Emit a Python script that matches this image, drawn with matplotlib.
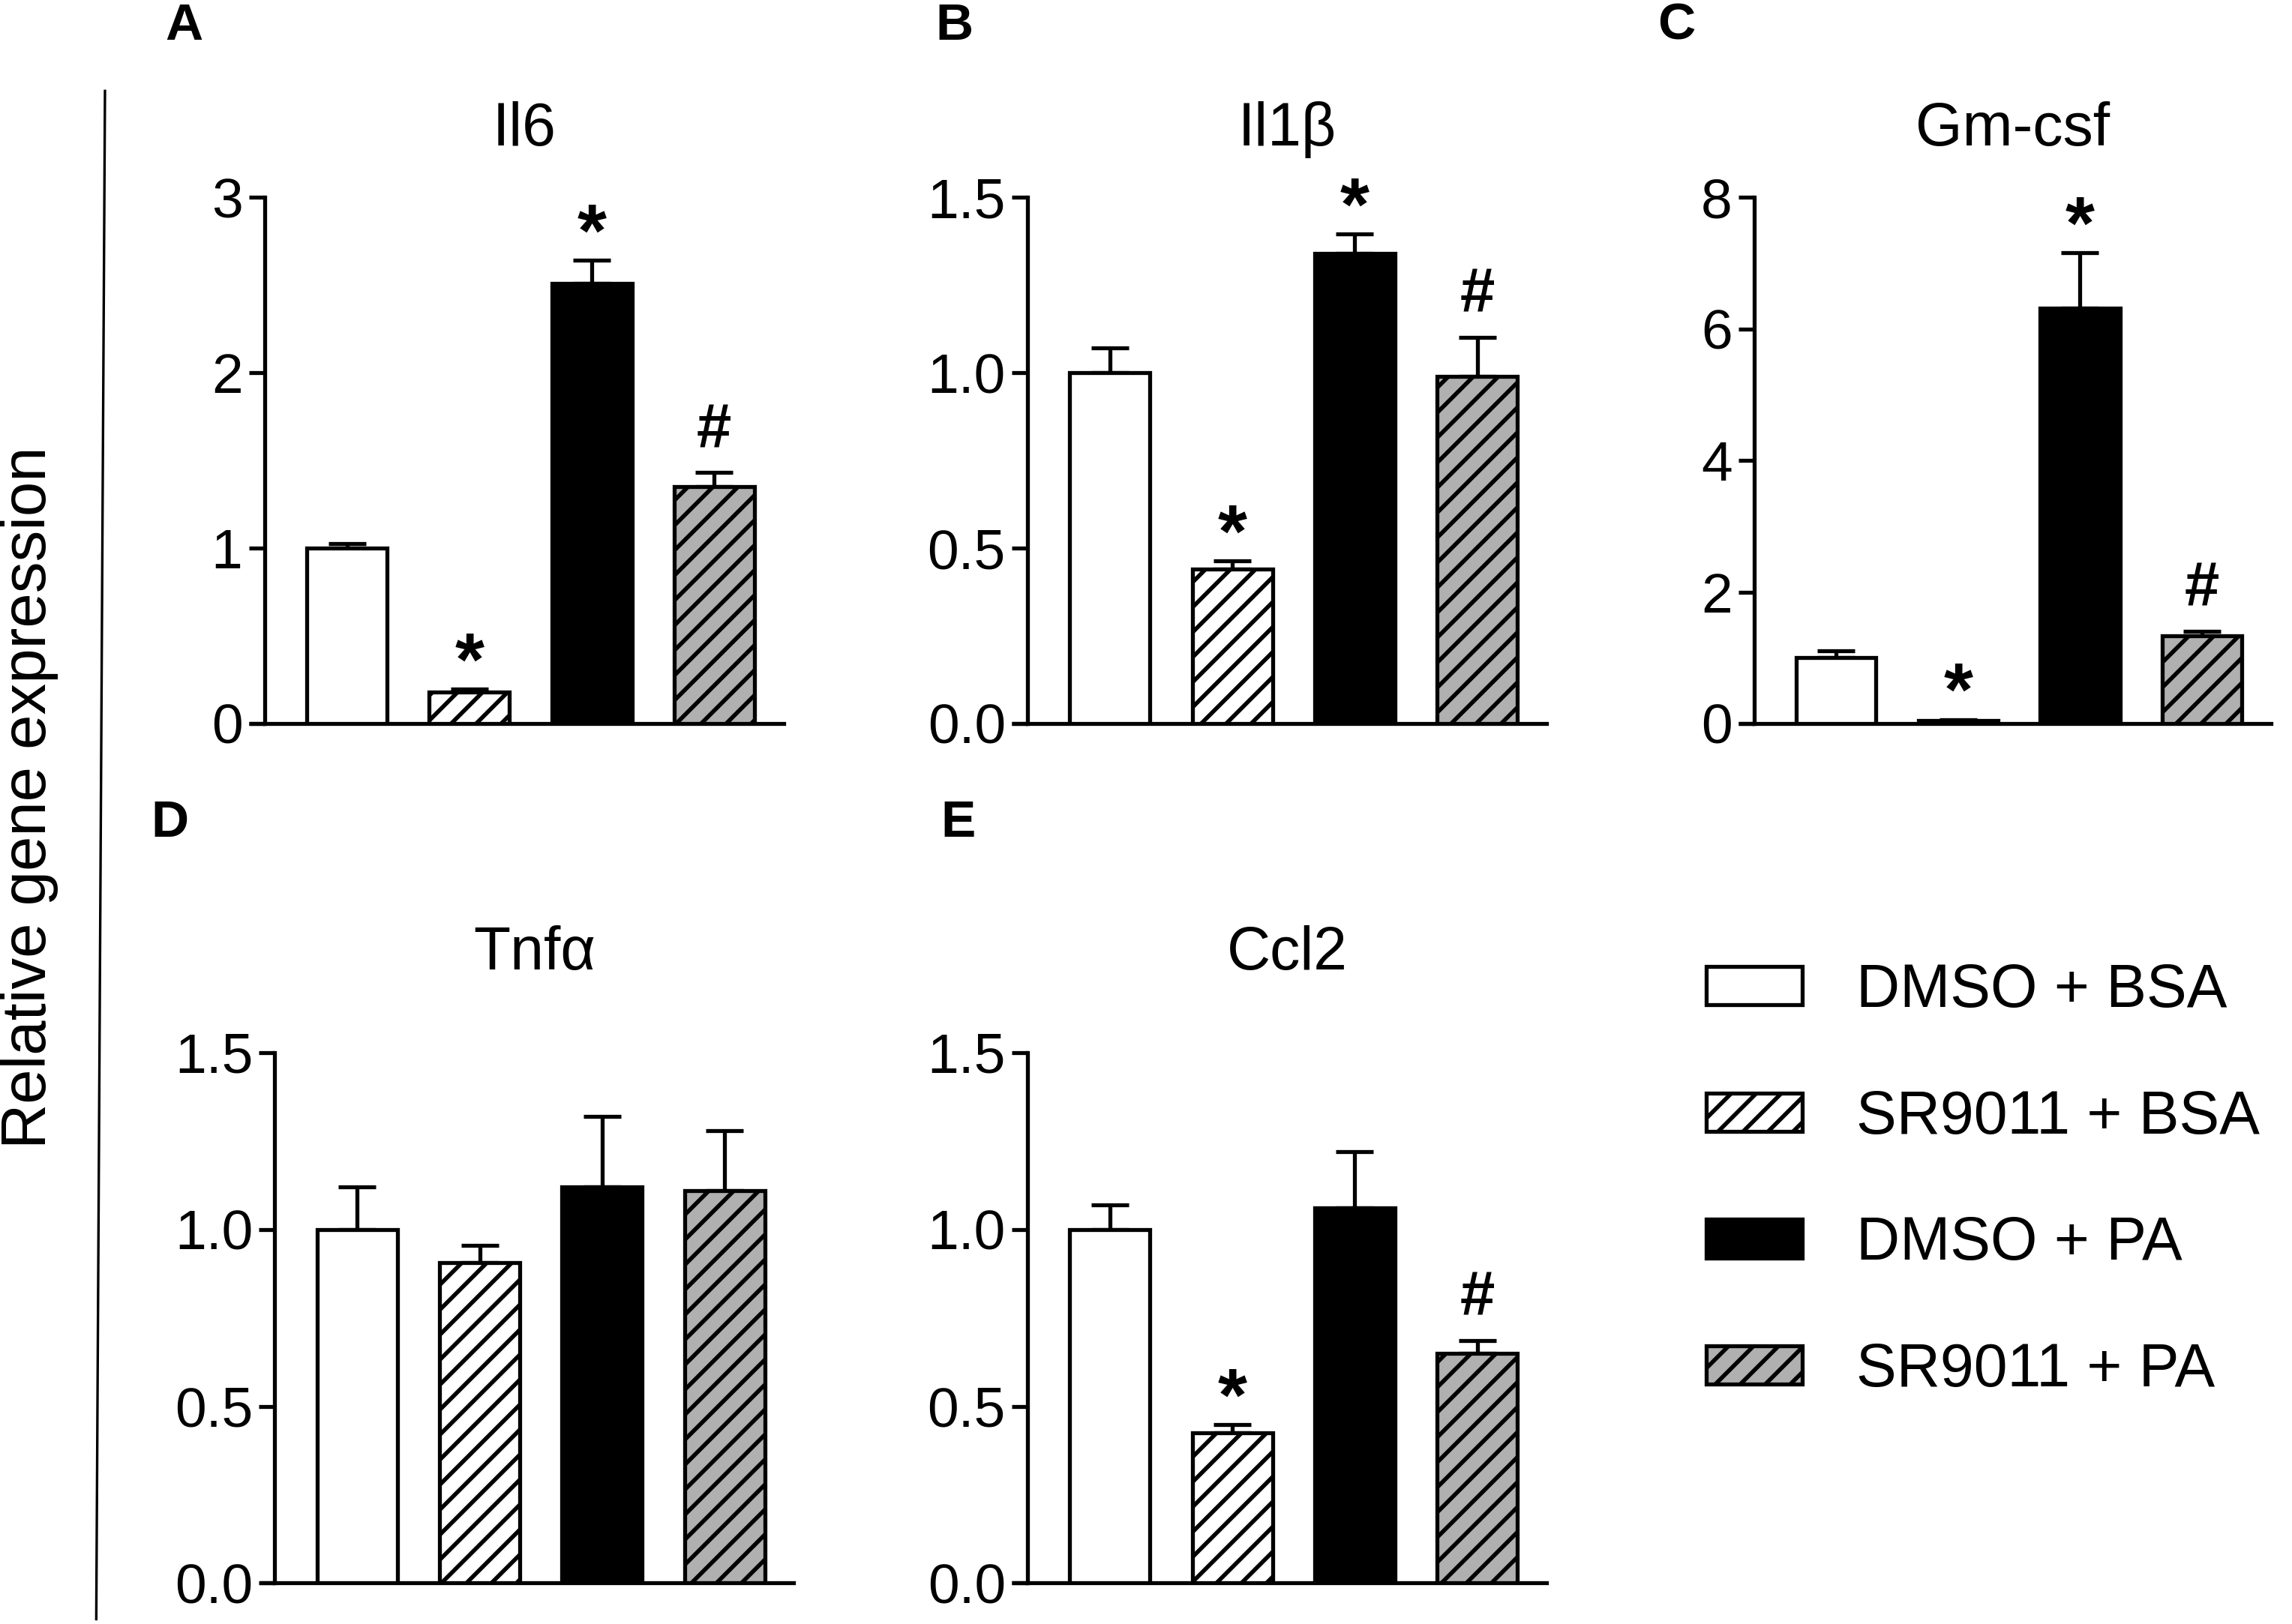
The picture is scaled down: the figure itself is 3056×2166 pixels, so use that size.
import matplotlib
matplotlib.use("Agg")
import matplotlib.pyplot as plt
from matplotlib.patches import Patch
from matplotlib.lines import Line2D

plt.rcParams['font.family'] = ['Liberation Sans', 'DejaVu Sans']
plt.rcParams['hatch.linewidth'] = 2.0

groups = ["DMSO + BSA", "SR9011 + BSA", "DMSO + PA", "SR9011 + PA"]
genes = ["Il6", "Il1\u03b2", "Gm-csf", "Tnf\u03b1", "Ccl2"]
panel_letters = ["A", "B", "C", "D", "E"]

il6_mean = [1.00, 0.18, 2.51, 1.35]
il6_err = [0.025, 0.015, 0.13, 0.08]
il1b_mean = [1.00, 0.44, 1.34, 0.99]
il1b_err = [0.07, 0.023, 0.055, 0.11]
gmcsf_mean = [1.00, 0.05, 6.32, 1.33]
gmcsf_err = [0.10, 0.01, 0.84, 0.07]
tnfa_mean = [1.00, 0.905, 1.12, 1.11]
tnfa_err = [0.12, 0.05, 0.20, 0.17]
ccl2_mean = [1.00, 0.425, 1.06, 0.65]
ccl2_err = [0.07, 0.023, 0.16, 0.035]

il6_sig = ["", "*", "*", "#"]
il1b_sig = ["", "*", "*", "#"]
gmcsf_sig = ["", "*", "*", "#"]
tnfa_sig = ["", "", "", ""]
ccl2_sig = ["", "*", "", "#"]

il6_ticks = [0, 1, 2, 3]
il6_ticklabels = ["0", "1", "2", "3"]
il1b_ticks = [0, 0.5, 1.0, 1.5]
il1b_ticklabels = ["0.0", "0.5", "1.0", "1.5"]
gmcsf_ticks = [0, 2, 4, 6, 8]
gmcsf_ticklabels = ["0", "2", "4", "6", "8"]
tnfa_ticks = [0, 0.5, 1.0, 1.5]
tnfa_ticklabels = ["0.0", "0.5", "1.0", "1.5"]
ccl2_ticks = [0, 0.5, 1.0, 1.5]
ccl2_ticklabels = ["0.0", "0.5", "1.0", "1.5"]

means = [il6_mean, il1b_mean, gmcsf_mean, tnfa_mean, ccl2_mean]
errs = [il6_err, il1b_err, gmcsf_err, tnfa_err, ccl2_err]
sigs = [il6_sig, il1b_sig, gmcsf_sig, tnfa_sig, ccl2_sig]
ticks = [il6_ticks, il1b_ticks, gmcsf_ticks, tnfa_ticks, ccl2_ticks]
ticklabels = [il6_ticklabels, il1b_ticklabels, gmcsf_ticklabels,
              tnfa_ticklabels, ccl2_ticklabels]

# styles
face = ["white", "white", "black", "#b0b0b0"]
hatches = [None, "//", None, "//"]
LW = 1.9
TICK_FS = 27
TITLE_FS = 29
sig_size = {"*": 36, "#": 30}
sig_offset = {"*": 2, "#": 12}

W, H = 3056 / 200, 2166 / 200
fig = plt.figure(figsize=(W, H), dpi=200)

# axes rectangles (fig fraction)
rects = [
    [0.1154, 0.5545, 0.2264, 0.324],
    [0.4483, 0.5545, 0.2264, 0.324],
    [0.7653, 0.5545, 0.2255, 0.324],
    [0.1199, 0.0252, 0.2264, 0.3267],
    [0.4483, 0.0252, 0.2264, 0.3267],
]
title_pads = [25, 25, 25, 40, 40]
letter_pos = [(0.0804, 0.984), (0.4165, 0.984), (0.7315, 0.984),
              (0.074, 0.493), (0.418, 0.493)]

x = list(range(len(groups)))
for i in range(5):
    ax = fig.add_axes(rects[i])
    ax.bar(x, means[i], width=0.655, color=face, edgecolor="black",
           linewidth=LW, hatch=hatches, zorder=3)
    ax.errorbar(x, means[i], yerr=[[0] * 4, errs[i]], fmt="none",
                ecolor="black", elinewidth=LW, capsize=9, capthick=LW,
                zorder=2)
    for xi, m, e, s in zip(x, means[i], errs[i], sigs[i]):
        if s:
            ax.annotate(s, (xi, m + e), xytext=(0, sig_offset[s]),
                        textcoords="offset points", ha="center",
                        va="baseline", fontsize=sig_size[s],
                        fontweight="bold")
    ax.set_xlim(-0.673, 3.565)
    ax.set_ylim(ticks[i][0], ticks[i][-1])
    ax.set_yticks(ticks[i])
    ax.set_yticklabels(ticklabels[i])
    ax.set_xticks([])
    for sp in ["top", "right"]:
        ax.spines[sp].set_visible(False)
    for sp in ["left", "bottom"]:
        ax.spines[sp].set_linewidth(LW)
    ax.tick_params(axis="y", length=7.5, width=LW, labelsize=TICK_FS, pad=3)
    ax.set_title(genes[i], fontsize=TITLE_FS, pad=title_pads[i])
    # extend x axis leftwards by the tick length
    axw_pt = rects[i][2] * W * 72
    ax.add_line(Line2D([-7.5 / axw_pt, 0], [0, 0], transform=ax.transAxes,
                       color="black", linewidth=LW, clip_on=False,
                       solid_capstyle="butt"))
    fig.text(letter_pos[i][0], letter_pos[i][1], panel_letters[i],
             fontsize=25, fontweight="bold", ha="center", va="center")

# left divider line and shared y label
fig.add_artist(Line2D([0.0458, 0.0420], [0.944, 0.003], color="black",
                      linewidth=1.2))
fig.text(0.0128, 0.509, "Relative gene expression", rotation=90,
         fontsize=30, ha="center", va="center")

handles = [Patch(facecolor=face[k], edgecolor="black", linewidth=LW,
                 hatch=hatches[k]) for k in range(4)]
fig.legend(handles, groups, loc="upper left",
           bbox_to_anchor=(0.734, 0.422), frameon=False, fontsize=29,
           handlelength=1.58, handleheight=0.6, labelspacing=1.15,
           handletextpad=0.9, borderaxespad=0)

fig.savefig("out.png", dpi=200, facecolor="white")
